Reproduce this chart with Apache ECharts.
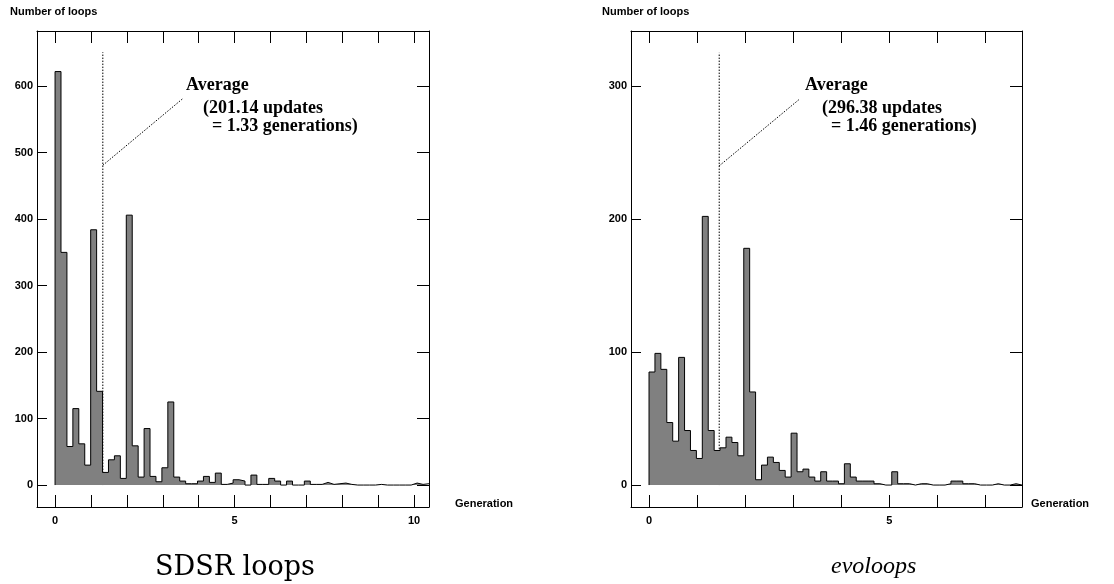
<!DOCTYPE html>
<html>
<head>
<meta charset="utf-8">
<script src="https://cdn.jsdelivr.net/npm/echarts@6/dist/echarts.min.js"></script>
<style>
html,body{margin:0;padding:0;background:#fff;}
#chart{width:1114px;height:584px;}
</style>
</head>
<body>
<div id="chart"></div>
<script>
// ---- data ----
// Counts of loops per histogram bin (bin = 25 updates), SDSR loops
const sdsrCounts = [622, 350, 58, 115, 62, 30, 384, 141, 19, 38, 44, 10, 406, 59, 12, 85, 13, 5, 26, 125,
  12, 6, 2, 2, 6, 13, 4, 18, 1, 3, 8, 6, 0, 15, 1, 1, 10, 6, 0, 6,
  0, 0, 6, 1, 1, 4, 1, 2, 3, 1, 0, 0, 0, 0, 1, 0, 0, 0, 0, 0,
  3, 1, 2];
// evoloops
const evoCounts = [85, 99, 87, 47, 33, 96, 41, 26, 20, 202, 41, 26, 28, 36, 32, 22, 178, 70, 4, 15,
  21, 17, 11, 6, 39, 10, 12, 6, 3, 10, 3, 3, 1, 16, 6, 3, 3, 3, 1, 0,
  0, 10, 1, 1, 0, 1, 1, 0, 0, 0, 1, 3, 3, 1, 1, 0, 0, 0, 1, 0,
  0, 1, 0];
const binUpdates = 25;
const sdsrAvgUpdates = 201.14, sdsrAvgGen = 1.33;
const evoAvgUpdates = 296.38, evoAvgGen = 1.46;
const sdsrYTicks = [0, 100, 200, 300, 400, 500, 600];
const evoYTicks = [0, 100, 200, 300];
const sdsrXTicks = [0,1,2,3,4,5,6,7,8,9,10];
const sdsrXLabels = [0, 5, 10];
const evoXTicks = [0,1,2,3,4,5,6,7];
const evoXLabels = [0, 5];
const captions = ['SDSR loops', 'evoloops'];

// ---- build ----
function stepData(counts, bw) {
  const d = [[0, 0]];
  counts.forEach((c, i) => d.push([i * bw, c]));
  d.push([counts.length * bw, counts[counts.length - 1]]);
  return d;
}
const sdsrBW = binUpdates / (sdsrAvgUpdates / sdsrAvgGen);
const evoBW = binUpdates / (evoAvgUpdates / evoAvgGen);

const labelFont = {color: '#000', fontFamily: 'Liberation Sans', fontWeight: 'bold', fontSize: 11};
function xAxes(grid, min, max, ticks, labels) {
  return [
    {gridIndex: grid, type: 'value', position: 'bottom', min: min, max: max,
     axisLine: {show: true, onZero: false, lineStyle: {color: '#000', width: 1}},
     axisTick: {show: true, inside: true, length: 12, customValues: ticks, lineStyle: {color: '#000'}},
     axisLabel: Object.assign({show: true, margin: 8, customValues: labels}, labelFont),
     splitLine: {show: false}},
    {gridIndex: grid, type: 'value', position: 'top', min: min, max: max,
     axisLine: {show: true, onZero: false, lineStyle: {color: '#000', width: 1}},
     axisTick: {show: true, inside: true, length: 12, customValues: ticks, lineStyle: {color: '#000'}},
     axisLabel: {show: false}, splitLine: {show: false}}
  ];
}
function yAxes(grid, min, max, ticks) {
  return [
    {gridIndex: grid, type: 'value', position: 'left', min: min, max: max,
     axisLine: {show: true, onZero: false, lineStyle: {color: '#000', width: 1}},
     axisTick: {show: true, inside: true, length: 10, customValues: ticks, lineStyle: {color: '#000'}},
     axisLabel: Object.assign({show: true, margin: 4, customValues: ticks}, labelFont),
     splitLine: {show: false}},
    {gridIndex: grid, type: 'value', position: 'right', min: min, max: max,
     axisLine: {show: true, onZero: false, lineStyle: {color: '#000', width: 1}},
     axisTick: {show: true, inside: true, length: 12, customValues: ticks, lineStyle: {color: '#000'}},
     axisLabel: {show: false}, splitLine: {show: false}}
  ];
}
function hist(xi, yi, counts, bw) {
  return {type: 'line', xAxisIndex: xi, yAxisIndex: yi, data: stepData(counts, bw), step: 'end',
    symbol: 'none', z: 3, clip: true,
    lineStyle: {color: '#000', width: 1},
    areaStyle: {color: '#808080', opacity: 1, origin: 0}};
}
function dotted(xi, yi, pts) {
  return {type: 'line', xAxisIndex: xi, yAxisIndex: yi, data: pts, symbol: 'none', z: 2,
    lineStyle: {color: '#000', width: 1, type: [1.5, 1.5]}};
}
const serifBold = {fontFamily: 'Liberation Serif', fontWeight: 'bold', fontSize: 18, fill: '#000'};
function txt(x, y, s, st) {
  return {type: 'text', left: x, top: y, style: Object.assign({text: s}, st)};
}

const option = {
  animation: false,
  backgroundColor: '#fff',
  grid: [
    {left: 37, top: 31, width: 392, height: 476},
    {left: 631, top: 31, width: 391, height: 476}
  ],
  xAxis: [].concat(xAxes(0, -0.503, sdsrCounts.length * sdsrBW, sdsrXTicks, sdsrXLabels),
                   xAxes(1, -0.375, evoCounts.length * evoBW, evoXTicks, evoXLabels)),
  yAxis: [].concat(yAxes(0, -33, 683, sdsrYTicks), yAxes(1, -16.5, 341.4, evoYTicks)),
  series: [
    dotted(0, 0, [[sdsrAvgGen, 0], [sdsrAvgGen, 651]]),
    dotted(0, 0, [[sdsrAvgGen, 481], [3.55, 581]]),
    hist(0, 0, sdsrCounts, sdsrBW),
    dotted(2, 2, [[evoAvgGen, 0], [evoAvgGen, 325]]),
    dotted(2, 2, [[evoAvgGen, 240], [3.125, 290]]),
    hist(2, 2, evoCounts, evoBW)
  ],
  graphic: [
    txt(10, 6, 'Number of loops', {fontFamily: 'Liberation Sans', fontWeight: 'bold', fontSize: 11, fill: '#000'}),
    txt(602, 6, 'Number of loops', {fontFamily: 'Liberation Sans', fontWeight: 'bold', fontSize: 11, fill: '#000'}),
    txt(455, 498, 'Generation', {fontFamily: 'Liberation Sans', fontWeight: 'bold', fontSize: 11, fill: '#000'}),
    txt(1031, 498, 'Generation', {fontFamily: 'Liberation Sans', fontWeight: 'bold', fontSize: 11, fill: '#000'}),
    txt(186, 76, 'Average', serifBold),
    txt(203, 99, '(' + sdsrAvgUpdates.toFixed(2) + ' updates', serifBold),
    txt(212, 117, '= ' + sdsrAvgGen.toFixed(2) + ' generations)', serifBold),
    txt(805, 76, 'Average', serifBold),
    txt(822, 99, '(' + evoAvgUpdates.toFixed(2) + ' updates', serifBold),
    txt(831, 117, '= ' + evoAvgGen.toFixed(2) + ' generations)', serifBold),
    {type: 'text', left: 155, top: 554, style: {text: captions[0], fontFamily: 'DejaVu Serif', fontSize: 27, fill: '#000'}},
    {type: 'text', left: 831, top: 555, style: {text: captions[1], fontFamily: 'Liberation Serif', fontStyle: 'italic', fontSize: 24, fill: '#000'}}
  ]
};
const chart = echarts.init(document.getElementById('chart'), null, {renderer: 'canvas'});
chart.setOption(option);
</script>
</body>
</html>
